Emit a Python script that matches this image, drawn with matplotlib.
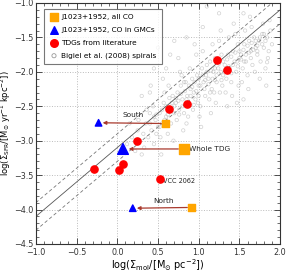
import matplotlib
matplotlib.use("Agg")
import matplotlib.pyplot as plt
import numpy as np
from matplotlib.ticker import MultipleLocator

plt.rcParams['font.family'] = ['DejaVu Sans']
plt.rcParams['mathtext.fontset'] = 'dejavusans'

# Bigiel et al. (2008) spirals
bigiel_pts = [
    (0.12,-3.05),(0.18,-2.95),(0.22,-3.15),(0.25,-2.85),(0.28,-3.0),(0.15,-2.75),(0.3,-3.2),(0.26,-2.7),
    (0.32,-2.9),(0.35,-2.75),(0.38,-2.95),(0.4,-2.6),(0.42,-2.85),(0.45,-3.05),(0.47,-2.7),(0.36,-2.55),
    (0.44,-2.5),(0.48,-2.9),(0.33,-3.1),(0.41,-2.2),(0.5,-2.8),
    (0.52,-2.6),(0.55,-2.75),(0.57,-2.45),(0.6,-2.65),(0.62,-2.9),(0.65,-2.55),(0.68,-2.35),(0.53,-2.95),
    (0.58,-2.3),(0.66,-2.75),(0.7,-2.6),(0.63,-2.2),(0.56,-2.1),(0.6,-1.95),(0.69,-3.0),(0.54,-3.2),
    (0.72,-2.45),(0.74,-2.3),(0.76,-2.55),(0.78,-2.2),(0.8,-2.4),(0.82,-2.6),(0.84,-2.15),(0.86,-2.35),
    (0.88,-2.5),(0.9,-2.25),(0.73,-2.7),(0.79,-2.05),(0.85,-2.75),(0.75,-1.8),(0.89,-1.95),(0.81,-2.85),
    (0.77,-2.0),(0.87,-2.65),
    (0.92,-2.1),(0.94,-2.3),(0.96,-2.4),(0.98,-2.05),(1.0,-2.2),(1.02,-2.5),(1.04,-1.95),(1.06,-2.15),
    (1.08,-2.35),(1.1,-1.9),(0.93,-2.55),(0.97,-1.75),(1.01,-2.65),(1.05,-1.7),(1.09,-2.05),(0.95,-1.6),
    (1.03,-2.8),(0.99,-2.45),
    (1.12,-2.1),(1.14,-1.85),(1.16,-2.25),(1.18,-2.0),(1.2,-1.8),(1.22,-2.15),(1.24,-1.95),(1.26,-2.3),
    (1.28,-1.75),(1.3,-2.05),(1.13,-2.4),(1.17,-1.6),(1.21,-2.45),(1.25,-1.55),(1.29,-2.2),(1.15,-2.6),
    (1.27,-1.4),(1.19,-2.3),
    (1.32,-1.9),(1.34,-2.1),(1.36,-1.75),(1.38,-1.95),(1.4,-2.15),(1.42,-1.7),(1.44,-1.85),(1.46,-2.0),
    (1.48,-1.6),(1.5,-1.8),(1.33,-2.3),(1.37,-1.5),(1.41,-2.35),(1.45,-1.45),(1.49,-2.2),(1.35,-2.5),
    (1.43,-1.3),(1.47,-2.45),
    (1.52,-1.75),(1.54,-1.95),(1.56,-1.6),(1.58,-1.85),(1.6,-2.05),(1.62,-1.55),(1.64,-1.7),(1.66,-1.9),
    (1.68,-1.5),(1.7,-1.65),(1.53,-2.15),(1.57,-1.4),(1.61,-2.25),(1.65,-1.35),(1.69,-2.0),(1.55,-2.4),
    (1.63,-1.2),
    (1.72,-1.75),(1.74,-1.55),(1.76,-1.85),(1.78,-1.45),(1.8,-1.65),(1.82,-1.95),(1.84,-1.5),(1.86,-1.7),
    (1.88,-1.4),(1.75,-2.1),(1.79,-1.3),(1.83,-2.2),(1.87,-1.25),(1.9,-1.6),(1.85,-1.8),
    (0.3,-2.35),(0.45,-1.95),(0.65,-1.75),(0.85,-1.5),(1.05,-1.35),(1.25,-1.15),(0.5,-1.65),(0.7,-1.55),
    (1.55,-1.15),(1.1,-1.05),(0.4,-2.3),(1.84,-1.86),
    (0.55,-2.55),(0.6,-2.5),(0.62,-2.62),(0.67,-2.45),(0.7,-2.5),(0.72,-2.38),(0.75,-2.42),(0.78,-2.32),
    (0.8,-2.5),(0.83,-2.28),(0.85,-2.4),(0.88,-2.2),(0.9,-2.35),(0.92,-2.22),(0.95,-2.15),(0.97,-2.28),
    (1.0,-2.1),(1.02,-2.2),(1.05,-2.05),(1.07,-2.25),(1.1,-2.0),(1.12,-2.18),(1.15,-1.98),(1.17,-2.1),
    (1.2,-1.95),(1.22,-2.05),(1.25,-1.88),(1.27,-2.0),(1.3,-1.85),(1.32,-1.98),(1.35,-1.82),(1.37,-1.92),
    (1.4,-1.78),(1.42,-1.9),(1.45,-1.72),(1.47,-1.85),(1.5,-1.7),(1.52,-1.82),(1.55,-1.68),(1.58,-1.75),
    (1.6,-1.62),(1.62,-1.72),(1.65,-1.58),(1.67,-1.68),(1.7,-1.55),(1.72,-1.62),(1.75,-1.5),(1.78,-1.6),
    (1.8,-1.45),(1.82,-1.55),(0.58,-2.7),(0.64,-2.38),(0.76,-2.62),(0.82,-2.15),(0.94,-2.48),(1.0,-2.35),
    (1.08,-2.12),(1.14,-2.3),(1.2,-2.12),(1.28,-2.12),(1.34,-1.95),(1.4,-2.02),(1.48,-1.92),(1.56,-1.85),
    (1.64,-1.8),(1.72,-1.7),(0.48,-2.62),(0.52,-2.8),(0.4,-2.75),(0.45,-2.65),
]
bigiel_x = [p[0] for p in bigiel_pts]
bigiel_y = [p[1] for p in bigiel_pts]

# TDGs from literature
tdg_x = [1.22, 1.35, 0.64, 0.86, -0.29, 0.02, 0.07, 0.24, 0.52]
tdg_y = [-1.83, -1.98, -2.54, -2.47, -3.41, -3.42, -3.34, -3.00, -3.56]

# J1023+1952 regions: South, Whole TDG, North
region_names = ["South", "Whole TDG", "North"]
allco_x = [0.59, 0.82, 0.91]
allco_y = [-2.75, -3.12, -3.97]
gmc_x = [-0.23, 0.07, 0.19]
gmc_y = [-2.74, -3.12, -3.98]

# Bigiel relation: log SFR = N*log(Sigma) + A, scatter +-0.2 dex
rel_N = 1.0
rel_A = -3.1
rel_scatter = 0.2

fig = plt.figure(figsize=(2.87, 2.72), dpi=100)
ax = fig.add_axes([0.125, 0.103, 0.851, 0.886])

ax.set_xlim(-1.0, 2.0)
ax.set_ylim(-4.5, -1.0)

ax.grid(True, which='major', color='#bbbbbb', linestyle=':', linewidth=0.7, zorder=0)

ax.scatter(bigiel_x, bigiel_y, s=6, facecolors='none', edgecolors='#999999',
           linewidths=0.5, alpha=0.45, zorder=1)

xx = np.array([-1.0, 2.0])
ax.plot(xx, rel_N * xx + rel_A, color='#555555', lw=0.6, zorder=2)
ax.plot(xx, rel_N * xx + rel_A + rel_scatter, color='#777777', lw=0.6, ls=(0, (4, 3)), zorder=2)
ax.plot(xx, rel_N * xx + rel_A - rel_scatter, color='#777777', lw=0.6, ls=(0, (4, 3)), zorder=2)

arrow_color = '#a93a2e'
for i in range(3):
    x0 = allco_x[i] - (0.05 if i != 1 else 0.07)
    x1 = gmc_x[i] + (0.05 if i != 1 else 0.07)
    ax.annotate('', xy=(x1, gmc_y[i]), xytext=(x0, allco_y[i]),
                arrowprops=dict(arrowstyle='-|>', color=arrow_color, lw=0.9,
                                mutation_scale=5, shrinkA=0, shrinkB=0), zorder=3)

ax.scatter(tdg_x, tdg_y, s=27, color='#ff0000', zorder=5)

sq_sizes = [28, 60, 28]
tri_sizes = [22, 60, 22]
ax.scatter(allco_x, allco_y, s=sq_sizes, marker='s', color='#ffa500', zorder=5)
ax.scatter(gmc_x, gmc_y, s=tri_sizes, marker='^', color='#0000ff', zorder=5)

fs = 5.3
ax.text(0.20, -2.67, "South", fontsize=fs, ha='center', va='bottom', color='#222222')
ax.text(0.88, -3.12, "Whole TDG", fontsize=fs, ha='left', va='center', color='#222222')
ax.text(0.57, -3.92, "North", fontsize=fs, ha='center', va='bottom', color='#222222')
ax.text(0.56, -3.58, "VCC 2062", fontsize=4.7, ha='left', va='center', color='#222222')

# legend handles
h1 = ax.scatter([], [], s=30, marker='s', color='#ffa500')
h2 = ax.scatter([], [], s=30, marker='^', color='#0000ff')
h3 = ax.scatter([], [], s=30, marker='o', color='#ff0000')
h4 = ax.scatter([], [], s=9, marker='o', facecolors='none', edgecolors='#999999', linewidths=0.6)
leg = ax.legend([h1, h2, h3, h4],
                ["J1023+1952, all CO", "J1023+1952, CO in GMCs",
                 "TDGs from literature", "Bigiel et al. (2008) spirals"],
                loc='upper left', fontsize=fs, frameon=True, fancybox=False,
                edgecolor='#555555', borderpad=0.7, handletextpad=0.4,
                labelspacing=0.9, bbox_to_anchor=(0.035, 0.975), handlelength=1.2,
                borderaxespad=0)
leg.get_frame().set_linewidth(0.8)
leg.set_zorder(10)

ax.xaxis.set_major_locator(MultipleLocator(0.5))
ax.xaxis.set_minor_locator(MultipleLocator(0.1))
ax.yaxis.set_major_locator(MultipleLocator(0.5))
ax.yaxis.set_minor_locator(MultipleLocator(0.1))
ax.tick_params(which='both', direction='in', top=True, right=True, labelsize=5.8, colors='#333333')
ax.tick_params(axis='x', which='major', pad=3)
ax.tick_params(axis='y', which='major', pad=1.5)
ax.tick_params(which='major', length=4, width=0.6)
ax.tick_params(which='minor', length=2, width=0.5)
for s in ax.spines.values():
    s.set_linewidth(0.8)
    s.set_color('#333333')

ax.set_xlabel(r'log($\Sigma_{\rm mol}$/[M$_{\odot}$ pc$^{-2}$])', fontsize=7, labelpad=0)
ax.set_ylabel(r'log($\Sigma_{\rm SFR}$/[M$_{\odot}$ yr$^{-1}$ kpc$^{-2}$])', fontsize=6.0)
ax.yaxis.set_label_coords(-0.092, 0.5)

fig.savefig('out.png', dpi=100)
